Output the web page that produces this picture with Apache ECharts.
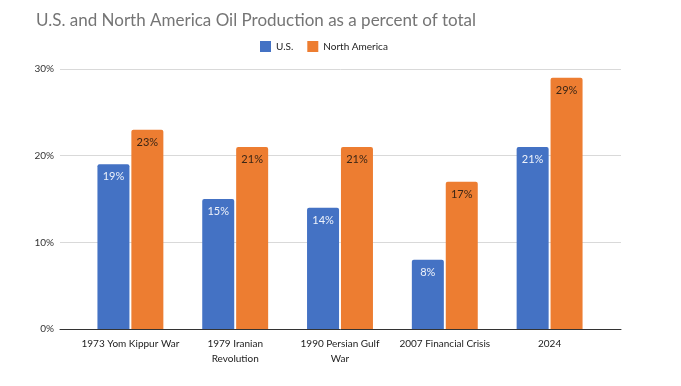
<!DOCTYPE html>
<html><head><meta charset="utf-8">
<script src="https://cdn.jsdelivr.net/npm/echarts@6/dist/echarts.min.js"></script>
<style>html,body{margin:0;padding:0;background:#fff}#c{width:681px;height:386px}</style>
</head><body><div id="c"></div>
<script>
const categories = ["1973 Yom Kippur War", "1979 Iranian\nRevolution", "1990 Persian Gulf\nWar", "2007 Financial Crisis", "2024"];
const usValues = [19, 15, 14, 8, 21];
const naValues = [23, 21, 21, 17, 29];
const seriesNames = ["U.S.", "North America"];
const yTicks = [0, 10, 20, 30];

const FONT = "Lato";
const chart = echarts.init(document.getElementById('c'), null, {renderer: 'canvas'});
chart.setOption({
  animation: false,
  backgroundColor: '#ffffff',
  textStyle: {fontFamily: FONT},
  title: {
    text: "U.S. and North America Oil Production as a percent of total",
    left: 31, top: 7,
    textStyle: {fontFamily: FONT, fontSize: 17, fontWeight: 'normal', color: '#757575'}
  },
  legend: {
    top: 36, left: 255,
    itemWidth: 11, itemHeight: 11, itemGap: 14,
    icon: 'rect',
    textStyle: {fontFamily: FONT, fontSize: 10, color: '#222'},
    data: seriesNames
  },
  grid: [
    {left: 60, right: 60, top: 69, bottom: 57},
    {left: 78, right: 79, top: 69, bottom: 57}
  ],
  xAxis: [
    {gridIndex: 0, type: 'value', min: 0, max: 1, axisLabel: {show: false}, axisTick: {show: false}, splitLine: {show: false},
     axisLine: {show: true, lineStyle: {color: '#333', width: 1}}},
    {gridIndex: 1, type: 'category', data: categories,
     axisLine: {show: false}, axisTick: {show: false},
     axisLabel: {fontFamily: FONT, fontSize: 10, color: '#222', margin: 7, lineHeight: 15, interval: 0}}
  ],
  yAxis: [
    {gridIndex: 0, type: 'value', min: yTicks[0], max: yTicks[yTicks.length - 1], interval: 10,
     axisLine: {show: false}, axisTick: {show: false},
     axisLabel: {formatter: '{value}%', fontFamily: FONT, fontSize: 10, color: '#333', margin: 6},
     splitLine: {lineStyle: {color: '#d9d9d9', width: 1}}},
    {gridIndex: 1, type: 'value', min: yTicks[0], max: yTicks[yTicks.length - 1], interval: 10, show: false}
  ],
  series: [
    {name: seriesNames[0], type: 'bar', xAxisIndex: 1, yAxisIndex: 1, data: usValues,
     barWidth: 32, barGap: '6%',
     itemStyle: {color: '#4472c4', borderRadius: [2, 2, 0, 0]},
     label: {show: true, position: 'insideTop', distance: 7, formatter: '{c}%', fontFamily: FONT, fontSize: 11, color: '#eef2fa'}},
    {name: seriesNames[1], type: 'bar', xAxisIndex: 1, yAxisIndex: 1, data: naValues,
     barWidth: 32,
     itemStyle: {color: '#ed7d31', borderRadius: [2, 2, 0, 0]},
     label: {show: true, position: 'insideTop', distance: 7, formatter: '{c}%', fontFamily: FONT, fontSize: 11, color: '#3a2616'}}
  ]
});
</script></body></html>
